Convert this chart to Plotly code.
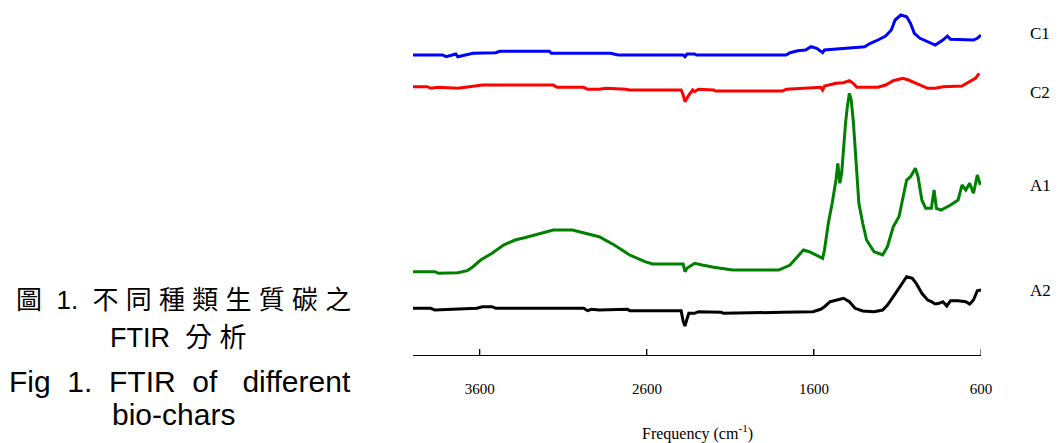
import plotly.graph_objects as go

# ---- data (wavenumber in cm^-1, relative absorbance in arbitrary units) ----
c1_wn = [4000, 3824, 3801, 3744, 3732, 3641, 3504, 3481, 3184, 3172, 2818, 2772, 2383, 2372, 2360,
         2314, 2303, 1766, 1743, 1697, 1651, 1617, 1583, 1560, 1548, 1537, 1468, 1331, 1297, 1262,
         1217, 1171, 1137, 1114, 1080, 1045, 1022, 999, 965, 919, 874, 828, 801, 783, 645, 622, 600]
c1_val = [300, 300, 298.3, 301, 298.3, 301.7, 302.3, 303.7, 303.7, 301.7, 301.7, 300, 300, 298.3, 301,
          301, 300, 300, 302.3, 304.3, 305, 308.3, 306.7, 304.3, 302.3, 305, 305.7, 307.7, 308.3, 311.7,
          315, 319, 325, 335, 340, 338.3, 331.7, 321.7, 316.7, 313.3, 310, 315, 319, 315.7, 315, 316.7, 320]

c2_wn = [4000, 3915, 3893, 3847, 3732, 3618, 3584, 3161, 3138, 2978, 2955, 2886, 2841, 2726, 2703,
         2395, 2383, 2372, 2360, 2349, 2326, 2314, 2292, 2200, 2189, 1788, 1766, 1674, 1560, 1548,
         1537, 1468, 1423, 1388, 1365, 1343, 1217, 1171, 1125, 1068, 1034, 988, 919, 874, 828, 714,
         668, 634, 611]
c2_val = [268.3, 268.3, 266.7, 267.7, 266.7, 269, 270, 270, 267.7, 267.7, 265.7, 265.7, 266.7, 265.7, 265,
          265, 260, 253.3, 256.7, 260, 265, 263.3, 265.7, 265, 264, 264, 265.7, 266.7, 267.7, 265,
          269, 271.7, 272.3, 274.3, 271.7, 267.7, 267.7, 270, 274.3, 276.7, 275, 271.7, 266.7, 266.7, 268.3, 269,
          273.3, 276.7, 281.7]

a1_wn = [4000, 3870, 3847, 3732, 3675, 3641, 3595, 3527, 3458, 3389, 3321, 3252, 3161, 3046, 2978,
         2886, 2795, 2703, 2612, 2566, 2383, 2372, 2360, 2314, 2269, 2200, 2086, 1811, 1743, 1697,
         1663, 1628, 1583, 1548, 1537, 1514, 1491, 1468, 1457, 1445, 1434, 1423, 1411, 1400, 1388,
         1377, 1365, 1354, 1343, 1331, 1308, 1285, 1240, 1189, 1160, 1125, 1091, 1068, 1045, 1022,
         993, 977, 954, 931, 897, 881, 867, 839, 782, 737, 726, 714, 691, 668, 645, 622, 604]
a1_val = [83.3, 83.3, 81.7, 82.3, 84.3, 88.3, 95, 101.7, 110, 115, 117.7, 121, 125, 125, 122.3,
          118.3, 110, 100, 93.3, 91, 91, 83.3, 86.7, 91.7, 90, 87.7, 85, 85, 90, 98.3,
          105, 103.3, 100, 96.7, 105, 131.7, 151.7, 175, 191.7, 171.7, 181.7, 208.3, 231.7, 248.3, 261.7,
          255, 235, 208.3, 175, 151.7, 131.7, 115, 103.3, 100, 108.3, 128.3, 138.3, 158.3, 175, 178.3,
          186.7, 178.3, 155, 146.7, 146.7, 165, 146.7, 145, 150, 155, 161.7, 170, 165, 171.7, 161.7, 180, 170]

a2_wn = [4000, 3893, 3870, 3732, 3618, 3584, 3527, 3504, 2978, 2955, 2932, 2886, 2795, 2715, 2703,
         2395, 2383, 2372, 2360, 2349, 2314, 2292, 2154, 2143, 1788, 1674, 1606, 1560, 1537, 1503,
         1457, 1423, 1388, 1354, 1308, 1240, 1189, 1160, 1125, 1080, 1045, 1011, 988, 954, 919,
         897, 874, 851, 828, 805, 782, 737, 691, 668, 645, 622, 600]
a2_val = [46.7, 46.7, 45, 45.7, 46.7, 48.3, 48.3, 46.7, 46.7, 44.3, 45.7, 45, 45.7, 45.7, 44.3,
          44.3, 34, 29, 36, 41.7, 41.7, 43.3, 42.7, 41.7, 42.7, 43.3, 43.3, 45.7, 48.3, 53.3,
          55, 56.7, 53.3, 46.7, 44, 43.3, 45, 50, 58.3, 70, 78.3, 76.7, 71.7, 61.7, 55,
          53.3, 51, 51.7, 53.3, 49, 54.3, 54.3, 53.3, 51, 55, 64.3, 65]

series_names = ["C1", "C2", "A1", "A2"]
tick_vals = [3600, 2600, 1600, 600]
tick_text = ["3600", "2600", "1600", "600"]
x_range = [4000, 600]

# ---- layout constants (pixels) ----
W, H = 1062, 443
L, R, T, B = 413, 81, 10, 88
PW, PH = W - L - R, H - T - B
Y0, Y1 = 0, 345
TICK_LEN = 6


def px_to_paper_x(px):
    return (px - L) / PW


def px_to_paper_y(py):
    return (H - B - py) / PH


fig = go.Figure()
colors = ["#0000FF", "#FF0000", "#008000", "#000000"]
data = [(c1_wn, c1_val), (c2_wn, c2_val), (a1_wn, a1_val), (a2_wn, a2_val)]
for (xs, ys), name, col in zip(data, series_names, colors):
    fig.add_trace(go.Scatter(x=xs, y=ys, mode="lines", name=name,
                             line=dict(color=col, width=3), showlegend=False))

serif = "Liberation Serif, Times New Roman, serif"
sans = "Liberation Sans, Arial, Noto Sans CJK TC, sans-serif"

annotations = []
# series labels at right
label_y = {"C1": 33, "C2": 92, "A1": 185, "A2": 290}
for name in series_names:
    annotations.append(dict(text=name, xref="paper", yref="paper",
                            x=px_to_paper_x(1028), y=px_to_paper_y(label_y[name]),
                            xanchor="left", yanchor="middle", showarrow=False,
                            font=dict(family=serif, size=17, color="black")))
# axis title
annotations.append(dict(text="Frequency (cm<sup>-1</sup>)", xref="paper", yref="paper",
                        x=px_to_paper_x(697), y=px_to_paper_y(432),
                        xanchor="center", yanchor="middle", showarrow=False,
                        font=dict(family=serif, size=16, color="black")))
# caption at left
cap = [
    ("圖  1.  不 同 種 類 生 質 碳 之", 14, 300, 26),
    ("FTIR  分 析", 108, 338, 27),
    ("Fig  1.  FTIR  of   different", 7, 381, 30),
    ("bio-chars", 110, 415, 30),
]
for txt, x0, yc, fs in cap:
    annotations.append(dict(text=txt, xref="paper", yref="paper",
                            x=px_to_paper_x(x0), y=px_to_paper_y(yc),
                            xanchor="left", yanchor="middle", showarrow=False,
                            font=dict(family=sans, size=fs, color="black")))

# upward tick marks on the bottom axis, positioned by the x scale at the tick values
shapes = [dict(type="line", xref="x", yref="paper", x0=v, x1=v, y0=0, y1=TICK_LEN / PH,
               line=dict(color="black", width=1)) for v in tick_vals]

fig.update_layout(
    width=W, height=H,
    margin=dict(l=L, r=R, t=T, b=B, pad=0),
    paper_bgcolor="white", plot_bgcolor="white",
    xaxis=dict(range=x_range, tickmode="array", tickvals=tick_vals,
               ticktext=["<br>" + t for t in tick_text],
               showline=True, linecolor="black", linewidth=1,
               ticks="inside", ticklen=TICK_LEN, tickcolor="black", tickwidth=1,
               showgrid=False, zeroline=False,
               tickfont=dict(family=serif, size=15, color="black")),
    yaxis=dict(range=[Y0, Y1], visible=False, showgrid=False, zeroline=False),
    annotations=annotations,
    shapes=shapes,
)

fig.write_html("out.html", config={"displayModeBar": False},
               post_script="document.body.style.margin='0';document.body.style.overflow='hidden';")
